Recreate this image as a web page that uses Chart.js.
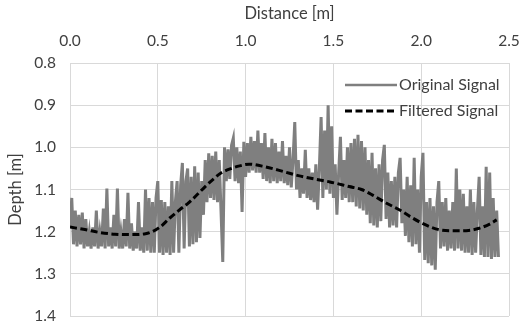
<!DOCTYPE html>
<html>
<head>
<meta charset="utf-8">
<script src="https://cdn.jsdelivr.net/npm/chart.js@4/dist/chart.umd.min.js"></script>
<style>
  html, body { margin: 0; padding: 0; background: #ffffff; overflow: hidden; }
  canvas { display: block; }
</style>
</head>
<body>
<canvas id="chart" width="524" height="326" style="width:524px;height:326px"></canvas>
<script>
// Raw depth profile, sampled every 0.01 m along the section
const SAMPLE_STEP = 0.01;
const originalDepth = [
  1.19, 1.12, 1.23, 1.15, 1.235, 1.16, 1.23, 1.155, 1.24, 1.17,
  1.235, 1.2, 1.24, 1.19, 1.235, 1.15, 1.24, 1.2, 1.235, 1.145,
  1.24, 1.098, 1.235, 1.19, 1.24, 1.16, 1.235, 1.098, 1.24, 1.2,
  1.24, 1.17, 1.235, 1.108, 1.24, 1.18, 1.245, 1.2, 1.24, 1.13,
  1.245, 1.19, 1.25, 1.1, 1.245, 1.12, 1.25, 1.13, 1.25, 1.12,
  1.08, 1.25, 1.125, 1.255, 1.13, 1.25, 1.14, 1.255, 1.08, 1.25,
  1.13, 1.08, 1.25, 1.09, 1.037, 1.24, 1.08, 1.05, 1.235, 1.07,
  1.23, 1.045, 1.225, 1.06, 1.215, 1.08, 1.16, 1.03, 1.13, 1.014,
  1.12, 1.02, 1.125, 1.01, 1.13, 1.03, 1.15, 1.272, 1.0, 1.08,
  1.005, 1.075, 0.995, 0.978, 1.08, 1.0, 1.085, 1.01, 1.153, 0.987,
  1.07, 0.99, 1.06, 0.975, 1.055, 0.985, 1.06, 0.96, 1.06, 0.99,
  1.075, 0.966, 1.08, 1.0, 1.085, 0.98, 1.08, 0.99, 1.085, 1.01,
  1.08, 0.985, 1.085, 1.02, 1.09, 1.0, 1.095, 1.03, 0.94, 1.1,
  1.03, 1.12, 1.05, 1.11, 1.006, 1.12, 1.05, 1.125, 1.06, 1.13,
  1.04, 1.148, 1.05, 0.928, 1.12, 0.96, 1.1, 0.9, 1.11, 0.95,
  1.12, 1.04, 1.16, 1.06, 0.975, 1.125, 1.03, 1.12, 1.0, 1.13,
  0.99, 1.13, 0.98, 1.14, 0.97, 1.145, 0.985, 1.15, 1.0, 1.16,
  1.03, 1.18, 1.013, 1.185, 1.05, 1.19, 1.04, 1.175, 1.03, 0.994,
  1.17, 1.06, 1.19, 1.08, 1.185, 1.07, 1.19, 1.06, 1.025, 1.18,
  1.1, 1.21, 1.07, 1.225, 1.09, 1.235, 1.025, 1.23, 1.1, 1.25,
  1.07, 1.013, 1.267, 1.13, 1.275, 1.12, 1.28, 1.14, 1.29, 1.13,
  1.08, 1.24, 1.13, 1.235, 1.12, 1.245, 1.15, 1.24, 1.13, 1.245,
  1.05, 1.24, 1.1, 1.245, 1.11, 1.25, 1.14, 1.25, 1.1, 1.255,
  1.13, 1.25, 1.15, 1.07, 1.255, 1.14, 1.26, 1.046, 1.26, 1.06,
  1.265, 1.12, 1.26, 1.15, 1.26
];

// Smoothed profile
const filteredDistance = [
  0.00, 0.085, 0.17, 0.256, 0.34, 0.43, 0.51, 0.57, 0.625, 0.68,
  0.77, 0.82, 0.86, 0.92, 0.966, 1.02, 1.11, 1.22, 1.30, 1.39,
  1.48, 1.59, 1.66, 1.73, 1.80, 1.875, 1.94, 2.00, 2.06, 2.11,
  2.19, 2.27, 2.33, 2.39, 2.43
];
const filteredDepth = [
  1.189, 1.195, 1.202, 1.206, 1.207, 1.205, 1.19, 1.167, 1.148, 1.130,
  1.093, 1.074, 1.061, 1.050, 1.044, 1.040, 1.046, 1.058, 1.067, 1.075,
  1.082, 1.093, 1.100, 1.115, 1.132, 1.148, 1.165, 1.179, 1.19, 1.196,
  1.198, 1.197, 1.192, 1.182, 1.172
];

// Axis ticks
const distanceTicks = [0.0, 0.5, 1.0, 1.5, 2.0, 2.5];
const depthTicks = [0.8, 0.9, 1.0, 1.1, 1.2, 1.3, 1.4];

const seriesNames = ['Original Signal', 'Filtered Signal'];

const FONT = 'Lato, "Open Sans", sans-serif';
const TEXT = '#404040';
const GRID = '#d9d9d9';

const originalPoints = originalDepth.map((d, i) => ({ x: +(i * SAMPLE_STEP).toFixed(2), y: d }));
const filteredPoints = filteredDepth.map((d, i) => ({ x: filteredDistance[i], y: d }));

// Legend drawn inside the plot, top-right, without a box
const innerLegend = {
  id: 'innerLegend',
  afterDatasetsDraw(chart) {
    const { ctx, chartArea } = chart;
    const x0 = chartArea.right - 164;
    const x1 = chartArea.right - 112;
    const tx = chartArea.right - 110;
    const rows = [chartArea.top + 22, chartArea.top + 48];
    ctx.save();
    chart.data.datasets.forEach((ds, i) => {
      const y = rows[i];
      ctx.beginPath();
      ctx.strokeStyle = ds.borderColor;
      ctx.lineWidth = i === 0 ? 2.5 : ds.borderWidth;
      ctx.setLineDash(ds.borderDash || []);
      ctx.lineCap = 'butt';
      ctx.moveTo(x0, y);
      ctx.lineTo(x1, y);
      ctx.stroke();
      ctx.setLineDash([]);
      ctx.fillStyle = TEXT;
      ctx.font = '16px ' + FONT;
      ctx.textAlign = 'left';
      ctx.textBaseline = 'middle';
      ctx.fillText(ds.label, tx, y);
    });
    ctx.restore();
  }
};

// Fixed axis band sizes so the plot sits at a set place in the canvas
function fixBand(prop, size) {
  return function (scale) {
    scale[prop] = size;
    scale.paddingLeft = 0;
    scale.paddingRight = 0;
    scale.paddingTop = 0;
    scale.paddingBottom = 0;
  };
}

new Chart(document.getElementById('chart'), {
  type: 'line',
  data: {
    datasets: [
      {
        label: seriesNames[0],
        data: originalPoints,
        borderColor: '#7f7f7f',
        borderWidth: 3,
        borderJoinStyle: 'miter',
        pointRadius: 0,
        tension: 0,
        order: 2
      },
      {
        label: seriesNames[1],
        data: filteredPoints,
        borderColor: '#000000',
        borderWidth: 3,
        borderDash: [7, 3.5],
        pointRadius: 0,
        cubicInterpolationMode: 'monotone',
        order: 1
      }
    ]
  },
  options: {
    responsive: false,
    maintainAspectRatio: false,
    animation: false,
    devicePixelRatio: 1,
    layout: { padding: { left: 0, right: 15, top: 0, bottom: 10 } },
    plugins: {
      legend: { display: false },
      tooltip: { enabled: false }
    },
    scales: {
      x: {
        type: 'linear',
        position: 'top',
        min: 0,
        max: 2.5,
        afterBuildTicks(scale) { scale.ticks = distanceTicks.map(v => ({ value: v })); },
        afterFit: fixBand('height', 63),
        ticks: {
          callback: v => Number(v).toFixed(1),
          color: TEXT,
          font: { family: FONT, size: 15.5 },
          padding: 13,
          maxRotation: 0
        },
        grid: { color: GRID, lineWidth: 1, drawTicks: false },
        border: { color: GRID },
        title: {
          display: true,
          text: 'Distance [m]',
          color: TEXT,
          font: { family: FONT, size: 16.5 },
          padding: { top: 4, bottom: 0 }
        }
      },
      y: {
        type: 'linear',
        reverse: true,
        min: 0.8,
        max: 1.4,
        afterBuildTicks(scale) { scale.ticks = depthTicks.map(v => ({ value: v })); },
        afterFit: fixBand('width', 70),
        ticks: {
          callback: v => Number(v).toFixed(1),
          color: TEXT,
          font: { family: FONT, size: 15.5 },
          padding: 14
        },
        grid: { color: GRID, lineWidth: 1, drawTicks: false },
        border: { color: GRID },
        title: {
          display: true,
          text: 'Depth [m]',
          color: TEXT,
          font: { family: FONT, size: 16.5 },
          padding: { top: 6, bottom: 0 }
        }
      }
    }
  },
  plugins: [innerLegend]
});
</script>
</body>
</html>
